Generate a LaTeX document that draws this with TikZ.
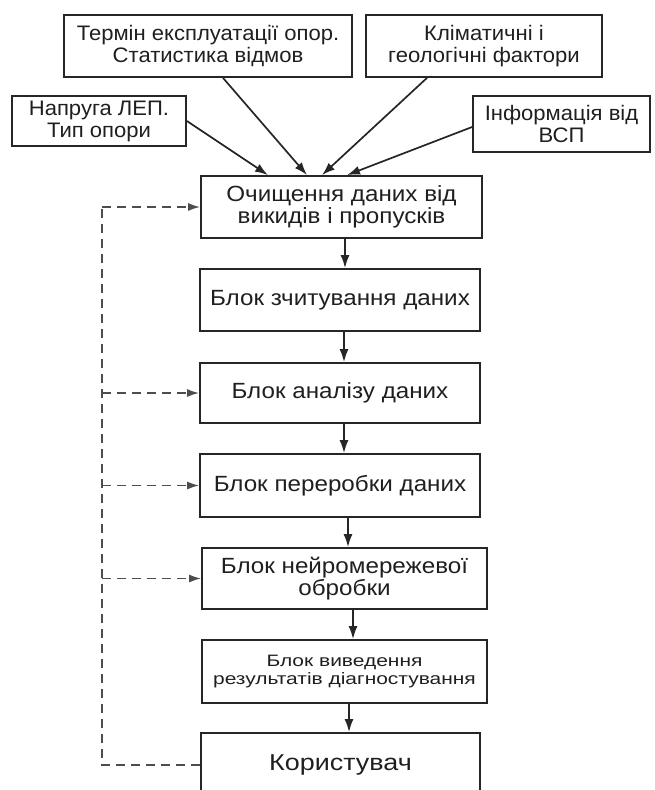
\documentclass[tikz,border=0pt]{standalone}
\usepackage{fontspec}
\setmainfont{Liberation Sans}
\newfontfamily\ftopfam[FakeStretch=1.05]{Liberation Sans}
\newfontfamily\fmainfam[FakeStretch=1.10]{Liberation Sans}
\newfontfamily\fvfam[FakeStretch=1.27]{Liberation Sans}
\newfontfamily\fufam[FakeStretch=1.17]{Liberation Sans}
\usetikzlibrary{arrows.meta,calc}
\definecolor{ln}{HTML}{262626}
\definecolor{dl}{HTML}{4D4D4D}
\begin{document}
\begin{tikzpicture}[x=1pt,y=-1pt,
  box/.style={draw=ln,line width=1.8pt,inner sep=0pt,align=center,text=black!88},
  ftop/.style={font=\ftopfam\fontsize{21}{22}\selectfont},
  fmain/.style={font=\fmainfam\fontsize{22}{21.5}\selectfont},
  arr/.style={draw=ln,line width=1.7pt,-{Latex[length=13pt,width=9pt]}},
  dsh/.style={draw=dl,line width=1.6pt,dash pattern=on 9pt off 6pt},
  darr/.style={dsh,-{Latex[length=12pt,width=8pt]}}]
\useasboundingbox (0,0) rectangle (654,790);
% top inputs
\node[box,ftop,minimum width=288pt,minimum height=62pt] (T) at (208,46) {Термін експлуатації опор.\\Статистика відмов};
\node[box,ftop,minimum width=236pt,minimum height=62pt] (K) at (484,46) {Кліматичні і\\геологічні фактори};
\node[box,ftop,minimum width=174pt,minimum height=50pt] (N) at (99,121) {Напруга ЛЕП.\\Тип опори};
\node[box,ftop,minimum width=177pt,minimum height=56pt] (I) at (561.5,124) {Інформація від\\ВСП};
% main chain
\node[box,fmain,minimum width=281pt,minimum height=62pt] (O) at (341.5,207) {Очищення даних від\\викидів і пропусків};
\node[box,fmain,minimum width=280pt,minimum height=62pt] (Z) at (340,300) {Блок зчитування даних};
\node[box,fmain,minimum width=280pt,minimum height=60pt] (A) at (340,393) {Блок аналізу даних};
\node[box,fmain,minimum width=280pt,minimum height=63pt] (P) at (340,485.5) {Блок переробки даних};
\node[box,fmain,minimum width=285pt,minimum height=61pt] (NM) at (344.5,578.5) {Блок нейромережевої\\обробки};
\node[box,font=\fvfam\fontsize{16.5}{18}\selectfont,minimum width=285pt,minimum height=63pt] (V) at (344.5,671.5) {Блок виведення\\результатів діагностування};
\node[box,font=\fufam\fontsize{23}{25}\selectfont,minimum width=279pt,minimum height=64pt] (U) at (340.5,765) {Користувач};
% input arrows
\draw[arr] (N.east) -- ($(O.north)+(-73.5,0)$);
\draw[arr] ($(T.south)+(15,0)$) -- ($(O.north)+(-34.5,0)$);
\draw[arr] ($(K.south)+(-57,0)$) -- ($(O.north)+(-19.5,0)$);
\draw[arr] ($(I.west)+(0,3)$) -- ($(O.north)+(5.5,0)$);
% chain arrows
\draw[arr] (O.south -| 345,0) -- (Z.north -| 345,0);
\draw[arr] (Z.south -| 344,0) -- (A.north -| 344,0);
\draw[arr] (A.south -| 344,0) -- (P.north -| 344,0);
\draw[arr] (P.south -| 348,0) -- (NM.north -| 348,0);
\draw[arr] (NM.south -| 353,0) -- (V.north -| 353,0);
\draw[arr] (V.south -| 349,0) -- (U.north -| 349,0);
% feedback
\coordinate (c1) at (102,207);
\coordinate (c2) at (102,765);
\draw[dsh] (U.west) -- (c2) -- (c1);
\draw[darr] (c1) -- (O.west);
\draw[darr] (A.west -| c1) -- (A.west);
\draw[darr] (P.west -| c1) -- (P.west);
\draw[darr] (NM.west -| c1) -- (NM.west);
\end{tikzpicture}
\end{document}
